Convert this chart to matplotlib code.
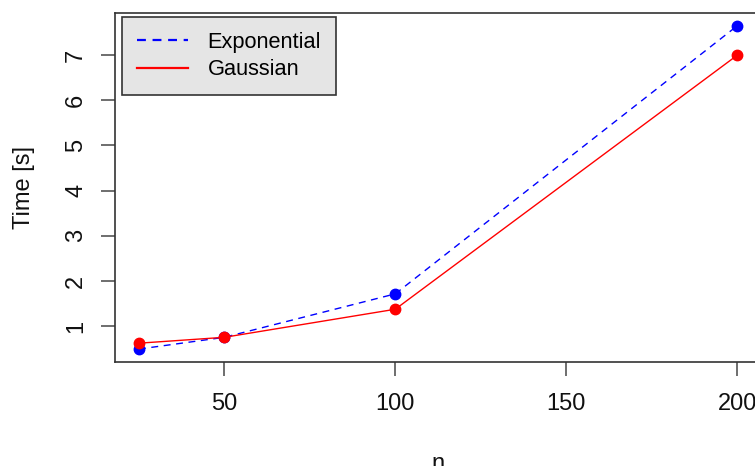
import matplotlib
matplotlib.use("Agg")
import matplotlib.pyplot as plt
from matplotlib.lines import Line2D

n_values = [25, 50, 100, 200]
exponential_time = [0.50, 0.76, 1.72, 7.64]
gaussian_time = [0.63, 0.76, 1.38, 6.99]
x_ticks = [50, 100, 150, 200]
y_ticks = [1, 2, 3, 4, 5, 6, 7]

plt.rcParams['font.family'] = ['Liberation Sans', 'DejaVu Sans']
FS = 17
LFS = 15.7

fig = plt.figure(figsize=(7.55, 4.66), dpi=100)
ax = fig.add_axes([115/755, 104/466, 646/755, 349/466])

ax.plot(n_values, exponential_time, color='blue', lw=1.0, ls=(0, (5, 4)),
        marker='o', ms=7.5, mec='blue', mfc='blue', zorder=3)
ax.plot(n_values, gaussian_time, color='red', lw=1.0, ls='-',
        marker='o', ms=7.5, mec='red', mfc='red', zorder=4)

ax.margins(x=0.04, y=0.04)
ax.set_xticks(x_ticks)
ax.set_xticklabels([str(v) for v in x_ticks])
ax.set_yticks(y_ticks)
ax.set_yticklabels([str(v) for v in y_ticks], rotation=90, va='center')

for s in ax.spines.values():
    s.set_color('#333333')
    s.set_linewidth(1.2)
ax.spines['right'].set_visible(False)
ax.tick_params(axis='both', length=10, width=1.2, color='#555555',
               labelsize=FS, labelcolor='#111111')
ax.tick_params(axis='x', pad=12)
ax.tick_params(axis='y', pad=10)

ax.set_xlabel('n', fontsize=FS, labelpad=28, color='#111111')
ax.set_ylabel('Time [s]', fontsize=FS, labelpad=22, color='#111111')

handles = [Line2D([], [], color='blue', lw=1.6, ls=(0, (4, 3))),
           Line2D([], [], color='red', lw=1.6, ls='-')]
leg = ax.legend(handles, ['Exponential', 'Gaussian'], loc='upper left',
                bbox_to_anchor=(0.0104, 0.989), borderaxespad=0,
                fontsize=LFS, handlelength=2.35, handletextpad=0.9,
                labelspacing=0.3, borderpad=0.68, fancybox=False,
                framealpha=1, facecolor='#e5e5e5', edgecolor='#333333')
leg.get_frame().set_linewidth(1.2)

fig.savefig('out.png', dpi=100)
